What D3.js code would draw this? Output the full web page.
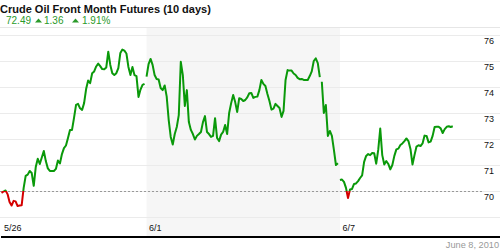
<!DOCTYPE html>
<html>
<head>
<meta charset="utf-8">
<script src="https://cdn.jsdelivr.net/npm/d3@7"></script>
<style>
  body { margin: 0; background: #fff; }
  svg { display: block; font-family: Arial, "Liberation Sans", sans-serif; }
</style>
</head>
<body>
<div id="chart"></div>
<script>
const title = 'Crude Oil Front Month Futures (10 days)';
const lastPrice = 72.49;
const change = 1.36;
const changePct = 1.91;
const asOf = 'June 8, 2010';

// trading days from 5/26 (5/31 was a holiday)
const dayTicks = [0, 3, 7];
const dayLabels = ['5/26', '6/1', '6/7'];
const shadedWeek = [3, 7];
const priceTicks = [70, 71, 72, 73, 74, 75, 76];
const gridValues = [69, 70, 71, 72, 73, 74, 75, 76];
const refPrice = 70.0;

// hourly prices, one array per unbroken stretch of the line
const sessionStarts = [0, 72, 159, 168];
const session1 = [69.93, 69.98, 70.02, 69.88, 69.58, 69.44, 69.62, 69.60, 69.42, 69.44,
    69.45, 70.12, 70.58, 70.63, 70.77, 70.69, 70.20, 70.92, 71.24, 71.04,
    71.29, 71.54, 71.15, 70.87, 70.77, 70.77, 70.77, 70.85, 71.17, 71.06,
    71.42, 71.65, 71.75, 72.04, 72.35, 72.35, 72.81, 73.31, 73.35, 73.18,
    73.12, 73.38, 73.92, 74.25, 74.15, 74.53, 74.60, 74.79, 74.90, 74.80,
    74.69, 74.68, 74.75, 75.36, 74.85, 74.53, 74.46, 74.53, 74.73, 75.31,
    75.44, 75.40, 75.29, 74.77, 74.46, 74.77, 74.46, 74.42, 73.62, 73.90,
    74.08, 74.12];
const session2 = [74.40, 74.88, 75.08, 74.85, 74.46, 74.31, 74.29, 73.96, 73.88, 74.06, 73.63,
    72.73, 72.08, 71.79, 72.19, 72.46, 72.92, 74.97, 74.46, 73.27, 73.88,
    72.65, 72.35, 72.19, 71.98, 72.12, 72.19, 72.27, 72.65, 72.88, 72.27,
    72.19, 72.08, 72.12, 72.80, 72.04, 71.92, 72.17, 72.27, 72.54, 72.19,
    73.00, 73.38, 73.69, 73.42, 73.04, 73.57, 73.54, 73.46, 73.50, 73.60,
    73.76, 73.77, 73.58, 73.62, 73.63, 73.88, 74.27, 74.12, 74.04, 73.73,
    73.46, 73.13, 73.17, 73.35, 73.27, 73.19, 72.85, 73.08, 74.27, 74.65,
    74.63, 74.63, 74.52, 74.46, 74.35, 74.30, 74.31, 74.27, 74.27, 74.27,
    74.42, 74.60, 75.00, 75.10, 74.92, 74.38];
const session3 = [74.20, 73.00, 73.31, 72.12, 72.31, 72.12, 71.58, 71.00, 71.07];
const session4 = [70.42, 70.44, 70.35, 70.12, 69.73, 70.06, 70.08, 70.27, 70.29, 70.38, 70.50,
    70.60, 71.12, 71.35, 71.42, 71.38, 71.46, 71.45, 71.05, 71.58, 72.40,
    71.38, 71.02, 71.15, 71.04, 70.83, 71.00, 71.35, 71.60, 71.63, 71.77,
    71.83, 71.92, 72.02, 71.92, 71.62, 71.02, 71.38, 71.71, 71.76, 71.73,
    71.83, 72.13, 72.12, 71.87, 71.90, 72.12, 72.46, 72.47, 72.47, 72.41,
    72.23, 72.38, 72.47, 72.49, 72.46, 72.49];

const sessions = [session1, session2, session3, session4];

const width = 500;
const height = 250;
const green = '#0a990a';
const red = '#d40000';

const svg = d3.select('#chart').append('svg')
    .attr('width', width)
    .attr('height', height);

const x = d3.scaleLinear().domain([0, 10]).range([1.5, 485]);
const y = d3.scaleLinear().domain([69, 76]).range([217, 35]);

/* header */
svg.append('text')
    .attr('x', 0).attr('y', 12.5)
    .attr('font-size', 11).attr('font-weight', 'bold')
    .attr('fill', '#111')
    .text(title);

const quote = svg.append('g').attr('fill', '#2a9a2a').attr('font-size', 10);
quote.append('text').attr('x', 6).attr('y', 24).text(lastPrice.toFixed(2));
quote.append('path').attr('d', 'M35,22.5L38.5,18.5L42,22.5Z');
quote.append('text').attr('x', 44).attr('y', 24).text(change.toFixed(2));
quote.append('path').attr('d', 'M72,22.5L75.5,18.5L79,22.5Z');
quote.append('text').attr('x', 82).attr('y', 24).text(changePct.toFixed(2) + '%');

/* background: shaded week, border, gridlines */
svg.append('rect')
    .attr('x', x(shadedWeek[0]))
    .attr('y', 27)
    .attr('width', x(shadedWeek[1]) - x(shadedWeek[0]))
    .attr('height', 236 - 27)
    .attr('fill', '#f6f6f6');

svg.append('line')
    .attr('x1', 0).attr('x2', width)
    .attr('y1', 27.5).attr('y2', 27.5)
    .attr('stroke', '#e6e6e6');

svg.append('g').classed('grid', true)
    .selectAll('line')
    .data(gridValues)
    .join('line')
    .attr('x1', 0).attr('x2', width)
    .attr('y1', d => Math.round(y(d)) + 0.5)
    .attr('y2', d => Math.round(y(d)) + 0.5)
    .attr('stroke', '#ebebeb');

svg.append('line')
    .attr('x1', 0).attr('x2', 482)
    .attr('y1', Math.round(y(refPrice)) + 0.5)
    .attr('y2', Math.round(y(refPrice)) + 0.5)
    .attr('stroke', '#999')
    .attr('stroke-dasharray', '2,2');

/* right price labels, hung below their gridline */
svg.append('g').classed('y-axis', true)
    .selectAll('text')
    .data(priceTicks)
    .join('text')
    .attr('x', 484)
    .attr('y', d => y(d) + 8.5)
    .attr('font-size', 9)
    .attr('fill', '#111')
    .text(d => d);

/* day labels */
svg.append('g').classed('x-axis', true)
    .selectAll('text')
    .data(dayTicks)
    .join('text')
    .attr('x', d => x(d) + 2.5)
    .attr('y', 231)
    .attr('font-size', 9)
    .attr('fill', '#111')
    .text((d, i) => dayLabels[i]);

svg.append('line')
    .attr('x1', 1).attr('x2', width)
    .attr('y1', 237).attr('y2', 237)
    .attr('stroke', '#000')
    .attr('stroke-width', 2);

svg.append('text')
    .attr('x', 499).attr('y', 247.5)
    .attr('text-anchor', 'end')
    .attr('font-size', 9.2)
    .attr('fill', '#999')
    .text(asOf);

/* price line: green above the reference, red below */
const refY = y(refPrice);
const defs = svg.append('defs');
defs.append('clipPath').attr('id', 'above')
    .append('rect').attr('x', 0).attr('y', 0).attr('width', width).attr('height', refY);
defs.append('clipPath').attr('id', 'below')
    .append('rect').attr('x', 0).attr('y', refY).attr('width', width).attr('height', height - refY);

const line = d3.line()
    .x(d => x(d.hour / 24))
    .y(d => y(d.price));

const paths = sessions.map((prices, s) =>
    line(prices.map((price, i) => ({hour: sessionStarts[s] + i, price}))));

[['above', green], ['below', red]].forEach(([clip, color]) => {
    svg.append('g')
        .attr('clip-path', `url(#${clip})`)
        .selectAll('path')
        .data(paths)
        .join('path')
        .attr('d', d => d)
        .attr('fill', 'none')
        .attr('stroke', color)
        .attr('stroke-width', 2)
        .attr('stroke-linejoin', 'round');
});
</script>
</body>
</html>
